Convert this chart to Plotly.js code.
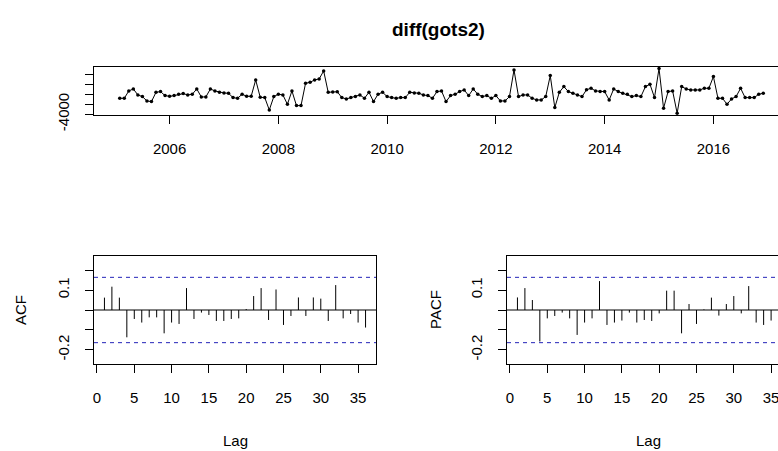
<!DOCTYPE html>
<html><head><meta charset="utf-8">
<script src="https://cdn.plot.ly/plotly-3.0.1.min.js"></script>
<style>html,body{margin:0;padding:0;overflow:hidden;background:#fff}#chart{width:827px;height:451px}</style>
</head><body><div id="chart"></div><script>
// ---- data ----
const chartTitle = "diff(gots2)";
const startYear = 2005 + 1/12;   // Feb 2005
const frequency = 12;
const seriesValues = [
 -807,-807,660,1060,-140,-473,-1340,-1473,393,527,-273,-407,
 -273,0,127,-140,0,1060,-540,-540,1060,660,393,260,
 193,-673,-807,0,-407,-407,2860,-607,-673,-3140,-473,0,
 -140,-2007,660,-2273,-2273,2193,2393,2860,3060,4660,393,450,
 500,-673,-940,-673,-473,-140,-807,393,-1473,0,393,-473,
 -673,-807,-673,-673,393,260,193,-140,-273,-807,527,660,
 -1473,-273,0,527,860,-273,1060,0,-473,-273,-807,-273,
 -1340,-1340,-473,4860,-473,-140,-140,-807,-1140,-1140,-473,3727,
 -2673,393,1527,527,193,-140,-473,900,1193,660,527,527,
 -1140,1060,527,193,0,-473,-273,-473,1527,1993,-673,5150,
 -2807,527,660,-3793,1527,1060,860,860,860,1193,1193,3527,
 -807,-807,-2007,-940,-473,1193,-673,-673,-673,0,193
];
const lags = [1,2,3,4,5,6,7,8,9,10,11,12,13,14,15,16,17,18,19,20,21,22,23,24,25,26,27,28,29,30,31,32,33,34,35,36];
const acfValues = [0.062,0.117,0.062,-0.137,-0.045,-0.063,-0.037,-0.037,-0.117,-0.063,-0.070,0.110,
 -0.045,-0.013,-0.025,-0.055,-0.055,-0.045,-0.042,0.005,0.070,0.110,-0.050,0.103,
 -0.075,-0.030,0.063,-0.030,0.063,0.057,-0.055,0.125,-0.042,-0.020,-0.063,-0.088];
const pacfValues = [0.063,0.110,0.050,-0.158,-0.042,-0.030,-0.013,-0.042,-0.125,-0.063,-0.042,0.145,
 -0.075,-0.063,-0.053,-0.013,-0.063,-0.050,-0.055,-0.017,0.097,0.097,-0.117,0.030,
 -0.070,0.003,0.062,-0.028,0.030,0.070,-0.017,0.120,-0.063,-0.075,-0.053,-0.060];
const yearTicks = [2006,2008,2010,2012,2014,2016];
const seriesTickVals = [-4000,-2000,0,2000,4000];
const seriesTickText = ["-4000","","","",""];
const lagTicks = [0,5,10,15,20,25,30,35];
const corrTickVals = [-0.2,-0.1,0,0.1,0.2];
const corrTickText = ["-0.2","","","0.1",""];

// ---- derived ----
const nObs = seriesValues.length;
const times = seriesValues.map((v,i)=>startYear + i/frequency);
function padRange(a,b){const d=(b-a)*0.04;return [a-d,b+d];}
const xr = padRange(times[0], times[times.length-1]);
const yr = padRange(Math.min(...seriesValues), Math.max(...seriesValues));
const lim = 3/Math.sqrt(nObs);
const cr = padRange(-lim, lim);
const lr = padRange(lags[0], lags[lags.length-1]);
const ci = 1.96/Math.sqrt(nObs);

function spikes(vals){const x=[],y=[];lags.forEach((k,i)=>{x.push(k,k,null);y.push(0,vals[i],null);});return {x,y};}
const a = spikes(acfValues), p = spikes(pacfValues);

const W=827,H=451;
const fx=v=>v/W, fy=v=>1-v/H;
const axBase = {showline:true,mirror:true,linecolor:'#000',linewidth:1,ticks:'outside',ticklen:8,tickwidth:1,tickcolor:'#000',showgrid:false,zeroline:false,tickfont:{size:15,color:'#000'}};

const traces = [
 {x:times,y:seriesValues,type:'scatter',mode:'lines+markers',line:{color:'#000',width:1},marker:{color:'#000',size:3.5},xaxis:'x',yaxis:'y',hoverinfo:'skip'},
 {x:a.x,y:a.y,type:'scatter',mode:'lines',line:{color:'#000',width:1},xaxis:'x2',yaxis:'y2',hoverinfo:'skip'},
 {x:p.x,y:p.y,type:'scatter',mode:'lines',line:{color:'#000',width:1},xaxis:'x3',yaxis:'y3',hoverinfo:'skip'}
];
const dashCol = '#2424b8';
const shapes = [];
[['x2','y2'],['x3','y3']].forEach(([xa,ya])=>{
  shapes.push({type:'line',xref:xa+' domain',x0:0,x1:1,yref:ya,y0:0,y1:0,line:{color:'#000',width:1}});
  shapes.push({type:'line',xref:xa+' domain',x0:0,x1:1,yref:ya,y0:ci,y1:ci,line:{color:dashCol,width:1,dash:'4px,4px'}});
  shapes.push({type:'line',xref:xa+' domain',x0:0,x1:1,yref:ya,y0:-ci,y1:-ci,line:{color:dashCol,width:1,dash:'4px,4px'}});
});
const ann = (t,x,y,opt={})=>Object.assign({text:t,xref:'paper',yref:'paper',x:fx(x),y:fy(y),xanchor:'center',yanchor:'middle',showarrow:false,font:{size:15,color:'#000'}},opt);
const layout = {
  width:W,height:H,margin:{l:0,r:0,t:0,b:0},showlegend:false,
  paper_bgcolor:'#fff',plot_bgcolor:'#fff',
  font:{family:'"Liberation Sans", Arial, sans-serif',size:15,color:'#000'},
  xaxis:Object.assign({},axBase,{domain:[fx(94),fx(789)],anchor:'y',range:xr,tickvals:yearTicks,ticklabelstandoff:12}),
  yaxis:Object.assign({},axBase,{domain:[fy(115),fy(66.7)],anchor:'x',range:yr,tickvals:seriesTickVals,ticktext:seriesTickText,tickangle:-90,ticklabelstandoff:10}),
  xaxis2:Object.assign({},axBase,{domain:[fx(94),fx(376)],anchor:'y2',range:lr,tickvals:lagTicks,ticklabelstandoff:12}),
  yaxis2:Object.assign({},axBase,{domain:[fy(364),fy(256)],anchor:'x2',range:cr,tickvals:corrTickVals,ticktext:corrTickText,tickangle:-90,ticklabelstandoff:10}),
  xaxis3:Object.assign({},axBase,{domain:[fx(507),fx(789)],anchor:'y3',range:lr,tickvals:lagTicks,ticklabelstandoff:12}),
  yaxis3:Object.assign({},axBase,{domain:[fy(364),fy(256)],anchor:'x3',range:cr,tickvals:corrTickVals,ticktext:corrTickText,tickangle:-90,ticklabelstandoff:10}),
  shapes:shapes,
  annotations:[
    ann('<b>'+chartTitle+'</b>',438,29,{font:{size:19,color:'#000'}}),
    ann('ACF',20,310,{textangle:-90}),
    ann('PACF',435,310,{textangle:-90}),
    ann('Lag',235,440),
    ann('Lag',648,440)
  ]
};
Plotly.newPlot('chart',traces,layout,{staticPlot:true,displayModeBar:false});
</script></body></html>
